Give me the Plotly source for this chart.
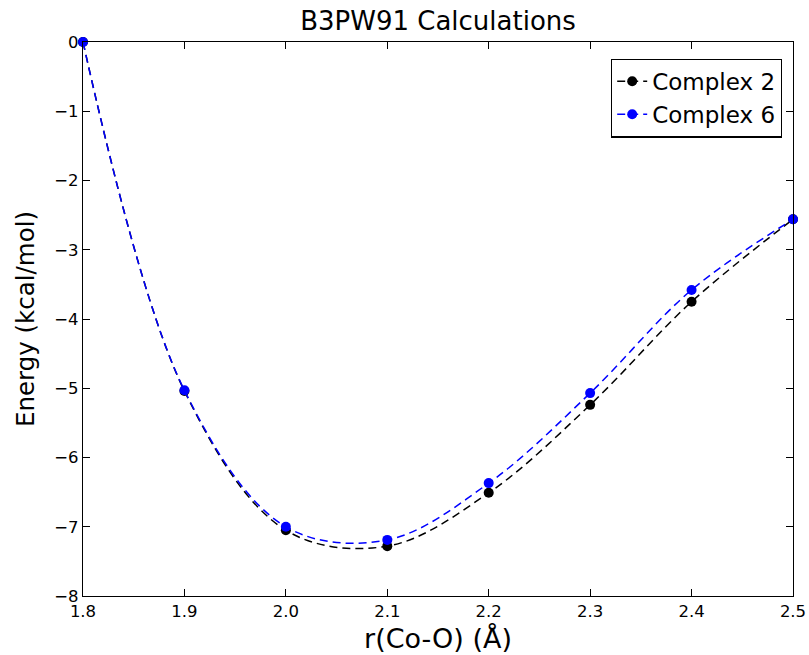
import plotly.graph_objects as go

r_co_o = [1.8, 1.9, 2.0, 2.1, 2.2, 2.3, 2.4, 2.5]
complex2 = [0.0, -5.04, -7.05, -7.28, -6.51, -5.24, -3.75, -2.56]
complex6 = [0.0, -5.03, -7.00, -7.19, -6.37, -5.07, -3.58, -2.56]
x_ticks = [1.8, 1.9, 2.0, 2.1, 2.2, 2.3, 2.4, 2.5]
y_ticks = [0, -1, -2, -3, -4, -5, -6, -7, -8]

font = "DejaVu Sans"

fig = go.Figure()
for name, vals, col in [("Complex 2", complex2, "black"), ("Complex 6", complex6, "blue")]:
    fig.add_trace(go.Scatter(
        x=r_co_o, y=vals, name=name, mode="lines+markers",
        line=dict(color=col, width=1.5, dash="8px,5px", shape="spline", smoothing=1.0),
        marker=dict(color=col, size=10, line=dict(width=0)),
        cliponaxis=False,
    ))

axis_common = dict(
    showline=True, linecolor="black", linewidth=1.2, mirror="ticks",
    ticks="inside", ticklen=7, tickcolor="black", showgrid=False, zeroline=False,
    automargin=False,
    tickfont=dict(family=font, size=16.5, color="black"),
)
fig.update_layout(
    width=809, height=655,
    margin=dict(l=83, r=16, t=42, b=59, autoexpand=False),
    paper_bgcolor="white", plot_bgcolor="white",
    title=dict(text="B3PW91 Calculations", xref="paper", x=0.5, xanchor="center", y=0.982, yanchor="top",
               font=dict(family=font, size=26, color="black")),
    xaxis=dict(range=[1.8, 2.5], tickvals=x_ticks, ticktext=[f"{v:.1f}" for v in x_ticks],
               title=dict(text="r(Co-O) (Å)", font=dict(family=font, size=27, color="black"), standoff=9),
               **axis_common),
    yaxis=dict(range=[-8, 0], tickvals=y_ticks, ticktext=[("−" + str(-v)) if v < 0 else str(v) for v in y_ticks],
               title=dict(text="Energy (kcal/mol)", font=dict(family=font, size=24.5, color="black"), standoff=12),
               **axis_common),
    legend=dict(x=0.9845, y=0.97, xanchor="right", yanchor="top",
                bordercolor="black", borderwidth=1.2, bgcolor="white",
                font=dict(family=font, size=23, color="black")),
    showlegend=True,
)
fig.write_html("out.html", config={"displayModeBar": False},
               post_script="document.body.style.margin='0';document.body.style.overflow='hidden';")
